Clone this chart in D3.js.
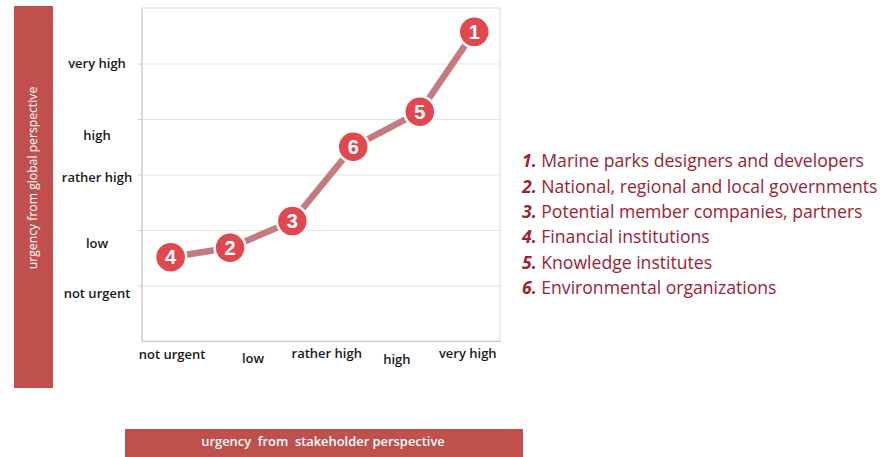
<!DOCTYPE html>
<html><head><meta charset="utf-8">
<script src="https://cdn.jsdelivr.net/npm/d3@7"></script>
<style>body{margin:0;background:#fff}svg{display:block}</style>
</head><body>
<svg id="c" width="887" height="457"></svg>
<script>
// Data
const stakeholders = ["4","2","3","6","5","1"];
const stakeholderUrgency = [0.4, 1.23, 2.1, 2.95, 3.88, 4.64]; // x
const globalUrgency = [1.51, 1.68, 2.16, 3.5, 4.13, 5.57];     // y
const xTickLabels = ["not urgent","low","rather high","high","very high"];
const xTickPos = [0.42, 1.55, 2.58, 3.56, 4.55];
const xTickDy = [0, 4, -1, 5, -1];
const yTickLabels = ["very high","high","rather high","low","not urgent"];
const yTickPos = [5.0, 3.7, 2.95, 1.75, 0.85];
const gridValues = [1,2,3,4,5];
const legendNums = ["1.","2.","3.","4.","5.","6."];
const legendItems = ["Marine parks designers and developers","National, regional and local governments","Potential member companies, partners","Financial institutions","Knowledge institutes","Environmental organizations"];

const svg = d3.select("#c");
const L=142, R=500, T=8, B=341;
const x = d3.scaleLinear().domain([0,5]).range([L,R]);
const y = d3.scaleLinear().domain([0,6]).range([B,T]);
const red = "#c0504d";
const tf = "'Open Sans', Lato, sans-serif";

// left bar
svg.append("rect").attr("x",14).attr("y",6).attr("width",39).attr("height",382).attr("fill",red);
svg.append("text").attr("transform","translate(37,178) rotate(-90)").attr("text-anchor","middle")
  .attr("fill","#fff").attr("font-family",tf).attr("font-size",12.2).attr("font-weight",500)
  .text("urgency from global perspective");
// bottom bar
svg.append("rect").attr("x",125).attr("y",429).attr("width",398).attr("height",28).attr("fill",red);
svg.append("text").attr("x",323).attr("y",445.5).attr("text-anchor","middle")
  .attr("fill","#fff").attr("font-family",tf).attr("font-size",12.9).attr("font-weight",600)
  .attr("xml:space","preserve").text("urgency  from  stakeholder perspective");

// plot frame + grid
svg.append("rect").attr("x",L).attr("y",T).attr("width",R-L).attr("height",B-T).attr("fill","#fff").attr("stroke","#d9d9d9");
svg.append("g").selectAll("line").data(gridValues).join("line")
  .attr("x1",L).attr("x2",R).attr("y1",d=>y(d)+0.5).attr("y2",d=>y(d)+0.5).attr("stroke","#e3e3e3");
svg.append("g").selectAll("line").data(gridValues).join("line")
  .attr("x1",L-4).attr("x2",L).attr("y1",d=>y(d)+0.5).attr("y2",d=>y(d)+0.5).attr("stroke","#d0d0d0");
svg.append("line").attr("x1",L).attr("x2",L).attr("y1",T).attr("y2",B).attr("stroke","#c8c8c8");
svg.append("line").attr("x1",L).attr("x2",R).attr("y1",B+0.5).attr("y2",B+0.5).attr("stroke","#c8c8c8");

// tick labels
svg.append("g").selectAll("text").data(yTickLabels).join("text")
  .attr("x",97).attr("y",(d,i)=>y(yTickPos[i])).attr("dy","0.35em").attr("text-anchor","middle")
  .attr("font-family",tf).attr("font-size",13).attr("font-weight",600).attr("fill","#1a1a1a").text(d=>d);
svg.append("g").selectAll("text").data(xTickLabels).join("text")
  .attr("x",(d,i)=>x(xTickPos[i])).attr("y",(d,i)=>359+xTickDy[i]).attr("text-anchor","middle")
  .attr("font-family",tf).attr("font-size",13).attr("font-weight",600).attr("fill","#1a1a1a").text(d=>d);

// line
const pts = stakeholders.map((s,i)=>({s, x:stakeholderUrgency[i], y:globalUrgency[i]}));
svg.append("path").datum(pts).attr("fill","none").attr("stroke","#c47a80").attr("stroke-width",6.5)
  .attr("d", d3.line().x(d=>x(d.x)).y(d=>y(d.y)));
const g = svg.append("g").selectAll("g").data(pts).join("g").attr("transform",d=>`translate(${x(d.x)},${y(d.y)})`);
g.append("circle").attr("r",15.5).attr("fill","#e0474f").attr("stroke","#fff").attr("stroke-width",2.5);
g.append("text").attr("text-anchor","middle").attr("dy","0.36em").attr("fill","#fff")
  .attr("font-family","Liberation Sans, Arial, sans-serif").attr("font-weight","bold").attr("font-size",20).text(d=>d.s);

// legend
const lg = svg.append("g").selectAll("text").data(legendItems).join("text")
  .attr("x",522).attr("y",(d,i)=>161+i*25.4).attr("dy","0.35em")
  .attr("font-family",tf).attr("font-size",17.6).attr("fill","#9b2335");
lg.append("tspan").attr("font-weight","bold").attr("font-style","italic").text((d,i)=>legendNums[i]);
lg.append("tspan").text(d=>" "+d);
</script>
</body></html>
